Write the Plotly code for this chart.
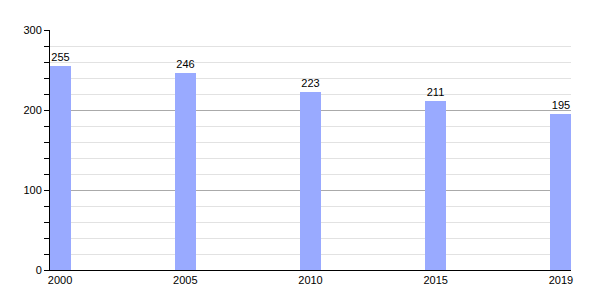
import plotly.graph_objects as go

years = ["2000", "2005", "2010", "2015", "2019"]
values = [255, 246, 223, 211, 195]

fig = go.Figure()
fig.add_trace(go.Bar(
    x=years, y=values,
    marker=dict(color="#99aaff", line=dict(width=0)),
    width=0.168,
    text=[str(v) for v in values],
    textposition="outside",
    textfont=dict(color="black", size=11, family="Liberation Sans"),
    cliponaxis=False,
))
fig.update_layout(
    width=600, height=300,
    margin=dict(l=50, r=29, t=30, b=30),
    paper_bgcolor="white", plot_bgcolor="white",
    font=dict(family="Liberation Sans", size=11, color="black"),
    showlegend=False,
    bargap=0,
)
fig.update_xaxes(
    type="category", range=[-0.08, 4.08],
    showline=True, linecolor="black", linewidth=1,
    showgrid=False, ticks="", tickfont=dict(size=11),
)
fig.update_yaxes(
    range=[0, 300], dtick=100, tick0=0,
    showline=True, linecolor="black", linewidth=1,
    showgrid=True, gridcolor="#aaaaaa", gridwidth=1,
    ticks="outside", ticklen=5, tickcolor="black",
    minor=dict(dtick=20, showgrid=True, gridcolor="#e2e2e2", ticks="outside", ticklen=5, tickcolor="black"),
    zeroline=False, tickfont=dict(size=11),
)
fig.write_html("out.html")
